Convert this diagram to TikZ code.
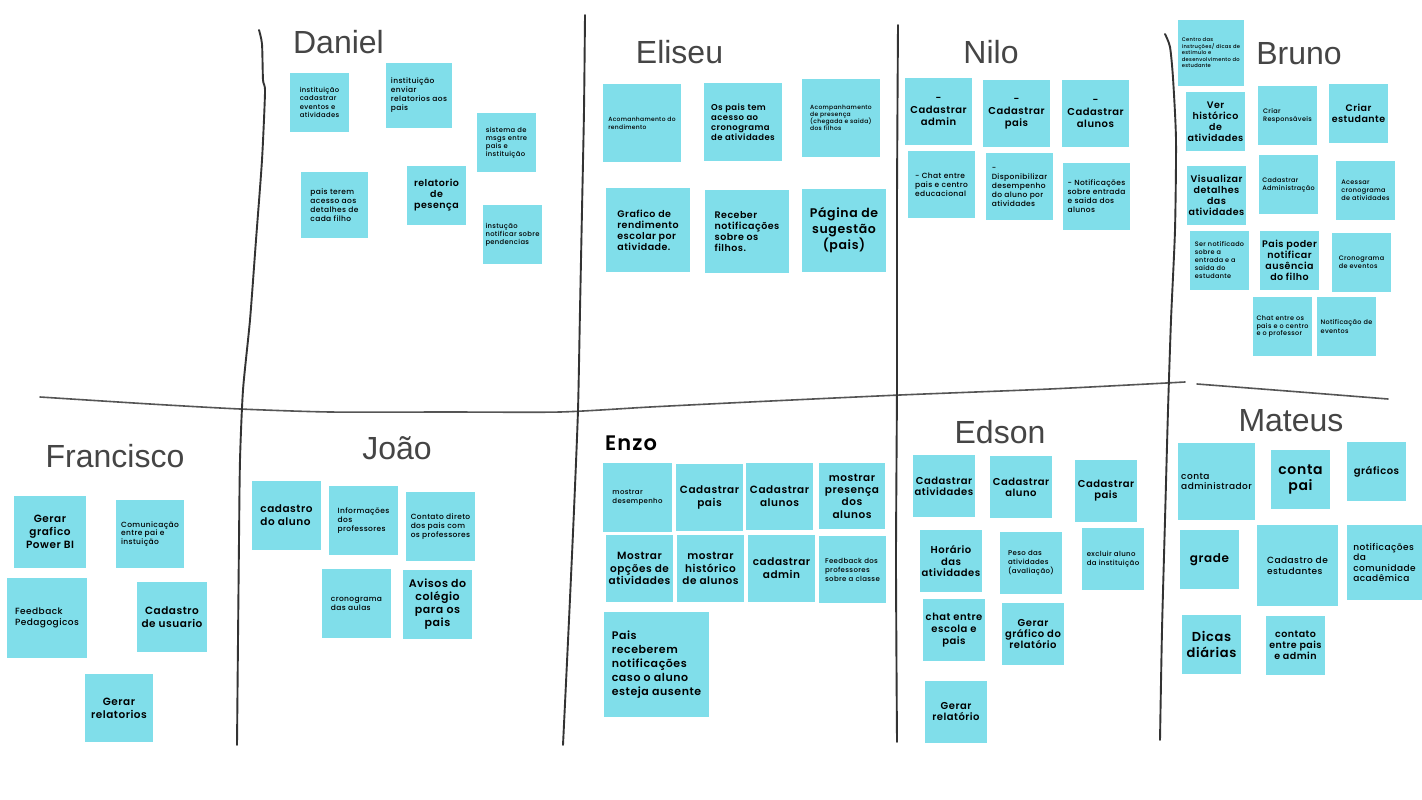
\documentclass[tikz,border=0pt]{standalone}
\usepackage{fontspec}
\newfontfamily\notefont{Poppins}[UprightFont={* Medium},BoldFont={* SemiBold},LetterSpace=5]
\newfontfamily\headfont{Liberation Sans}
\definecolor{notecol}{HTML}{80DEEA}
\definecolor{pencol}{HTML}{333333}
\definecolor{hpencol}{HTML}{555555}
\definecolor{headcol}{HTML}{454545}
\tikzset{
 note/.style args={#1/#2}{fill=notecol,minimum width=#1pt,minimum height=#2pt,inner sep=0pt,align=left,text=black},
 tm/.style args={#1/#2}{font=\notefont\fontsize{#1}{#2}\selectfont},
 tb/.style args={#1/#2}{font=\notefont\bfseries\fontsize{#1}{#2}\selectfont},
 ctr/.style={align=center},
 head/.style={font=\headfont\fontsize{32}{38}\selectfont,text=headcol,anchor=base,inner sep=0pt},
 pen/.style={draw=pencol,line width=1.9pt,line cap=round,line join=round},
 hpen/.style={draw=hpencol,line width=1.6pt,line cap=round,line join=round}
}
\begin{document}
\begin{tikzpicture}[x=1pt,y=-1pt]
\useasboundingbox (0,0) rectangle (1422,800);
\fill[white] (0,0) rectangle (1422,800);
% dividers
\draw[hpen] plot[smooth,tension=0.4] coordinates {(40,397) (150,404) (240,409) (330,412) (450,412) (560,412) (650,407) (750,402) (900,395) (1050,389) (1185,382)};
\draw[hpen] plot[smooth,tension=0.4] coordinates {(1197,384) (1300,392) (1388,399)};
\draw[pen] plot[smooth,tension=0.4] coordinates {(259,30) (262,44) (263,80) (265,92) (262,160) (256,240) (250,320) (243,390) (240,460) (239,540) (238,640) (237,745)};
\draw[pen] plot[smooth,tension=0.4] coordinates {(585,15) (584,110) (582,210) (580,310) (578,410) (574,510) (569,620) (563,745)};
\draw[pen] plot[smooth,tension=0.4] coordinates {(898,25) (897,200) (897,380) (896,560) (897,742)};
\draw[pen] plot[smooth,tension=0.4] coordinates {(1165,34) (1170,47) (1173,78) (1176,140) (1175,230) (1171,320) (1168,410) (1165,520) (1162,630) (1160,740)};
% headings
\node[head] (hDaniel) at (338.5,54) {Daniel};
\node[head] (hEliseu) at (679.5,64) {Eliseu};
\node[head] (hNilo) at (991,64) {Nilo};
\node[head] (hBruno) at (1299,65) {Bruno};
\node[head] (hFrancisco) at (115,467) {Francisco};
\node[head] (hJoao) at (397,459) {João};
\node[head] (hEdson) at (1000,443) {Edson};
\node[head] (hMateus) at (1291,431) {Mateus};
\node[font=\notefont\bfseries\fontsize{21}{24}\selectfont,anchor=base west,inner sep=0pt] (hEnzo) at (605,450) {Enzo};
% Daniel
\node[note=59/59,tm=6.8/8.3] (d1) at (319.5,102.5) {instituição\\cadastrar\\eventos e\\atividades};
\node[note=66/65,tm=7.5/9] (d2) at (419,95.5) {instituição\\enviar\\relatorios aos\\pais};
\node[note=59/59,tm=6.8/8] (d3) at (506.5,142.5) {sistema de\\msgs entre\\pais e\\instituição};
\node[note=67/66,tm=7.5/9] (d4) at (334.5,205) {pais terem\\acesso aos\\detalhes de\\cada filho};
\node[note=59/59,tb=9.5/11,ctr] (d5) at (436.5,195.5) {relatorio\\de\\pesença};
\node[note=59/59,tm=6.8/8] (d6) at (512.5,234.5) {instução\\notificar sobre\\pendencias};
% Eliseu
\node[note=78/78,tm=6/8.3] (e1) at (642,123) {Acomanhamento do\\rendimento};
\node[note=78/78,tb=8.5/10] (e2) at (743,122) {Os pais tem\\acesso ao\\cronograma\\de atividades};
\node[note=78/78,tm=6/7.2] (e3) at (841,118) {Acompanhamento\\de presença\\(chegada e saida)\\dos filhos};
\node[note=84/84,tb=9.5/11] (e4) at (648,230) {Grafico de\\rendimento\\escolar por\\atividade.};
\node[note=84/83,tb=9.5/11] (e5) at (747,231.5) {Receber\\notificações\\sobre os\\filhos.};
\node[note=84/83,tb=12.5/16,ctr] (e6) at (844,230.5) {Página de\\sugestão\\(pais)};
% Nilo
\node[note=67/67,tb=10/12,ctr] (n1) at (938.5,111.5) {-\\Cadastrar\\admin};
\node[note=67/67,tb=10/12,ctr] (n2) at (1016.5,113.5) {-\\Cadastrar\\pais};
\node[note=67/67,tb=10/12,ctr] (n3) at (1095.5,113.5) {-\\Cadastrar\\alunos};
\node[note=67/67,tm=7.5/9] (n4) at (941.5,184.5) {- Chat entre\\pais e centro\\educacional};
\node[note=67/67,tm=7.5/9] (n5) at (1019.5,186.5) {-\\Disponibilizar\\desempenho\\do aluno por\\atividades};
\node[note=67/67,tm=7.5/9] (n6) at (1096.5,196.5) {- Notificações\\sobre entrada\\e saida dos\\alunos};
% Bruno
\node[note=66/66,tm=5.2/6.5] (b1) at (1211,53) {Centro das\\instruções/ dicas de\\estimulo e\\desenvolvimento do\\estudante};
\node[note=59/59,tb=9.5/11,ctr] (b2) at (1215.5,121.5) {Ver\\histórico\\de\\atividades};
\node[note=59/59,tm=6.5/8.3] (b3) at (1287.5,115.5) {Criar\\Responsáveis};
\node[note=59/59,tb=9.5/11,ctr] (b4) at (1358.5,113.5) {Criar\\estudante};
\node[note=59/59,tb=9.5/11,ctr] (b5) at (1216.5,195.5) {Visualizar\\detalhes\\das\\atividades};
\node[note=59/59,tm=6.5/8] (b6) at (1288.5,184.5) {Cadastrar\\Administração};
\node[note=59/59,tm=6.5/8] (b7) at (1365.5,190.5) {Acessar\\cronograma\\de atividades};
\node[note=59/59,tm=6.5/8] (b8) at (1219.5,260.5) {Ser notificado\\sobre a\\entrada e a\\saida do\\estudante};
\node[note=59/59,tb=9.5/11,ctr] (b9) at (1289.5,260.5) {Pais poder\\notificar\\ausência\\do filho};
\node[note=59/59,tm=6.5/8.3] (b10) at (1361.5,262.5) {Cronograma\\de eventos};
\node[note=59/59,tm=6.5/7.7] (b11) at (1282.5,326.5) {Chat entre os\\pais e o centro\\e o professor};
\node[note=59/59,tm=6.5/8.3] (b12) at (1346.5,326.5) {Notificação de\\eventos};
% Francisco
\node[note=72/72,tb=10.5/13.3,ctr] (f1) at (50,532) {Gerar\\grafico\\Power BI};
\node[note=68/68,tm=7.5/8.8] (f2) at (150,534) {Comunicação\\entre pai e\\instuição};
\node[note=80/80,tm=9/11] (f3) at (47,618) {Feedback\\Pedagogicos};
\node[note=70/70,tb=10.5/12.7,ctr] (f4) at (172,617) {Cadastro\\de usuario};
\node[note=68/68,tb=10.5/13,ctr] (f5) at (119,708) {Gerar\\relatorios};
% Joao
\node[note=69/69,tb=10.5/12.7] (j1) at (286.5,515.5) {cadastro\\do aluno};
\node[note=69/69,tm=7.5/9] (j2) at (363.5,520.5) {Informações\\dos\\professores};
\node[note=69/69,tm=7.5/9] (j3) at (440.5,526.5) {Contato direto\\dos pais com\\os professores};
\node[note=69/69,tm=7.5/9] (j4) at (356.5,603.5) {cronograma\\das aulas};
\node[note=69/69,tb=11/13,ctr] (j5) at (437.5,604.5) {Avisos do\\colégio\\para os\\pais};
% Enzo
\node[note=69/69,tm=7/8.3] (z1) at (637.5,497.5) {mostrar\\desempenho};
\node[note=67/67,tb=10.5/13.3,ctr] (z2) at (709.5,497.5) {Cadastrar\\pais};
\node[note=67/67,tb=10.5/13.3,ctr] (z3) at (779.5,496.5) {Cadastrar\\alunos};
\node[note=66/66,tb=10.5/12.3,ctr] (z4) at (852,496) {mostrar\\presença\\dos\\alunos};
\node[note=67/67,tb=10.5/12.5,ctr] (z5) at (639.5,568.5) {Mostrar\\opções de\\atividades};
\node[note=67/67,tb=10.5/12.5,ctr] (z6) at (710.5,568.5) {mostrar\\histórico\\de alunos};
\node[note=67/67,tb=10.5/12.7,ctr] (z7) at (781.5,568.5) {cadastrar\\admin};
\node[note=67/67,tm=7/9] (z8) at (852.5,569.5) {Feedback dos\\professores\\sobre a classe};
\node[note=105/105,tb=11/14] (z9) at (656.5,664.5) {Pais\\receberem\\notificações\\caso o aluno\\esteja ausente};
% Edson
\node[note=62/62,tb=10/11,ctr] (s1) at (944,486) {Cadastrar\\atividades};
\node[note=62/62,tb=10/11,ctr] (s2) at (1021,487) {Cadastrar\\aluno};
\node[note=62/62,tb=10/11,ctr] (s3) at (1106,491) {Cadastrar\\pais};
\node[note=62/62,tb=10/11.5,ctr] (s4) at (951,561) {Horário\\das\\atividades};
\node[note=62/62,tm=7/8.7] (s5) at (1031,563) {Peso das\\atividades\\(avaliação)};
\node[note=62/62,tm=7/8.7] (s6) at (1113,559) {excluir aluno\\da instituição};
\node[note=62/62,tb=10/11.7,ctr] (s7) at (954,630) {chat entre\\escola e\\pais};
\node[note=62/62,tb=10/11,ctr] (s8) at (1033,634) {Gerar\\gráfico do\\relatório};
\node[note=62/62,tb=10/11,ctr] (s9) at (956,712) {Gerar\\relatório};
% Mateus
\node[note=77/77,tm=9/10.7] (m1) at (1216.5,481.5) {conta\\administrador};
\node[note=59/59,tb=14/16,ctr] (m2) at (1300.5,479.5) {conta\\pai};
\node[note=59/59,tb=10/12,ctr] (m3) at (1376.5,471.5) {gráficos};
\node[note=59/59,tb=12/14,ctr] (m4) at (1209.5,559.5) {grade};
\node[note=81/81,tm=9/10.7] (m5) at (1297.5,565.5) {Cadastro de\\estudantes};
\node[note=75/75,tm=9/10.3] (m6) at (1384.5,562.5) {notificações\\da\\comunidade\\acadêmica};
\node[note=59/59,tb=13/15.7,ctr] (m7) at (1211.5,644.5) {Dicas\\diárias};
\node[note=59/59,tb=9.5/11,ctr] (m8) at (1295.5,645.5) {contato\\entre pais\\e admin};
\end{tikzpicture}
\end{document}
